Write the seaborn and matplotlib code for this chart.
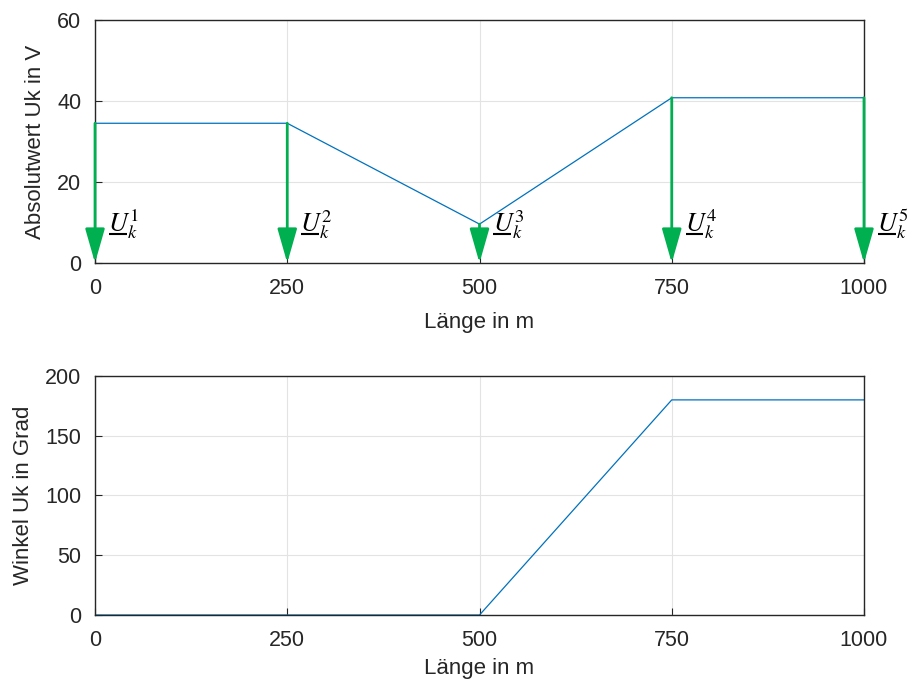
import matplotlib
matplotlib.use("Agg")
import matplotlib.pyplot as plt
import seaborn as sns
import pandas as pd

laenge = [0, 250, 500, 750, 1000]
betrag = [34.5, 34.5, 9.6, 40.8, 40.8]
winkel = [0, 0, 0, 180, 180]
knoten = ["1", "2", "3", "4", "5"]
xticks = [0, 250, 500, 750, 1000]
yticks_top = [0, 20, 40, 60]
yticks_bot = [0, 50, 100, 150, 200]

sns.set_theme(style="white")
plt.rcParams["font.family"] = ["Liberation Sans", "DejaVu Sans"]
plt.rcParams["mathtext.fontset"] = "stix"

line_col = "#0072BD"
green = "#00B050"
txt = "#262626"

fig = plt.figure(figsize=(9.11, 6.87), dpi=100)
ax1 = fig.add_axes([0.1043, 0.6172, 0.8441, 0.3537])
ax2 = fig.add_axes([0.1043, 0.1048, 0.8441, 0.3479])

df = pd.DataFrame({"x": laenge, "b": betrag, "w": winkel})
sns.lineplot(data=df, x="x", y="b", ax=ax1, color=line_col, lw=0.9)
sns.lineplot(data=df, x="x", y="w", ax=ax2, color=line_col, lw=0.9)

for xv, yv, k in zip(laenge, betrag, knoten):
    ax1.annotate("", xy=(xv, 0), xytext=(xv, yv),
                 arrowprops=dict(arrowstyle="-|>,head_length=1.05,head_width=0.3",
                                 mutation_scale=20, lw=2, color=green,
                                 shrinkA=0, shrinkB=0),
                 annotation_clip=False, zorder=5)
    ax1.text(xv + 17, 7.8, r"$U_k^{%s}$" % k, fontsize=19,
             color="black", ha="left", va="baseline", clip_on=False)
    ax1.plot([xv + 18, xv + 41], [7.1, 7.1], color="black", lw=1.5,
             clip_on=False, solid_capstyle="butt")

for ax, yt, ylab, lp in [(ax1, yticks_top, "Absolutwert Uk in V", 9),
                         (ax2, yticks_bot, "Winkel Uk in Grad", 5)]:
    ax.set_xlim(0, 1000)
    ax.set_ylim(yt[0], yt[-1])
    ax.set_xticks(xticks)
    ax.set_yticks(yt)
    ax.set_xlabel("Länge in m", fontsize=16, color=txt, labelpad=lp)
    ax.set_ylabel(ylab, fontsize=16, color=txt, labelpad=8)
    ax.grid(True, color="#e3e3e3", lw=0.8)
    ax.tick_params(direction="in", length=5, width=0.8, colors="#262626",
                   labelsize=15.5, left=True, bottom=True)
    ax.tick_params(axis="x", pad=11)
    ax.tick_params(axis="y", pad=10)
    for s in ax.spines.values():
        s.set_color("#262626")
        s.set_linewidth(1.0)
        s.set_visible(True)

fig.savefig("out.png", dpi=100)
